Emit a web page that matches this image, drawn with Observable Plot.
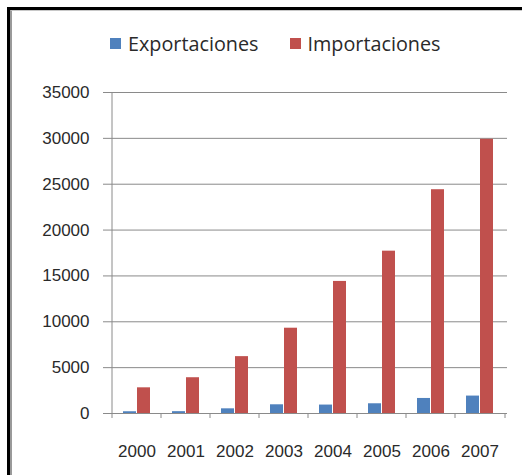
<!DOCTYPE html>
<html>
<head>
<meta charset="utf-8">
<script src="https://cdn.jsdelivr.net/npm/d3@7"></script>
<script src="https://cdn.jsdelivr.net/npm/@observablehq/plot@0.6"></script>
<style>
  html, body { margin: 0; padding: 0; background: #fff; width: 522px; height: 475px; overflow: hidden; }
  #frame { position: absolute; left: 7px; top: 7px; width: 600px; height: 600px;
           border-left: 3px solid #000; border-top: 3px solid #000; }
  #inner { position: absolute; left: 10px; top: 10px; width: 600px; height: 600px;
           border-left: 2px solid #9a9a9a; border-top: 1px solid #c8c8c8; }
  #legend { position: absolute; left: 110px; top: 30px; font-family: "Open Sans", sans-serif;
            font-size: 19.8px; color: #2a2a2a; display: flex; align-items: center; white-space: nowrap; }
  .sw { display: inline-block; width: 11px; height: 11px; margin-right: 7px; }
  .item { display: flex; align-items: center; margin-right: 31px; }
  #chart { position: absolute; left: 0; top: 70px; }
</style>
</head>
<body>
<div id="frame"></div>
<div id="inner"></div>
<div id="legend"></div>
<div id="chart"></div>
<script>
const years = ["2000", "2001", "2002", "2003", "2004", "2005", "2006", "2007"];
const exportaciones = [190, 200, 510, 950, 920, 1060, 1640, 1900];
const importaciones = [2800, 3900, 6200, 9300, 14400, 17700, 24400, 29900];
const seriesNames = ["Exportaciones", "Importaciones"];
const seriesColors = ["#4F81BD", "#C0504D"];
const yTicks = [0, 5000, 10000, 15000, 20000, 25000, 30000, 35000];

const expData = years.map((y, i) => ({year: y, value: exportaciones[i]}));
const impData = years.map((y, i) => ({year: y, value: importaciones[i]}));

// Legend
const legend = document.getElementById("legend");
seriesNames.forEach((n, i) => {
  const it = document.createElement("span");
  it.className = "item";
  const sw = document.createElement("span");
  sw.className = "sw";
  sw.style.background = seriesColors[i];
  it.appendChild(sw);
  it.appendChild(document.createTextNode(n));
  legend.appendChild(it);
});

const chart = Plot.plot({
  width: 522,
  height: 390,
  marginTop: 22,
  marginBottom: 47,
  marginLeft: 108,
  marginRight: 15,
  style: {fontFamily: "'Liberation Sans', Arial, sans-serif", fontSize: "17px", color: "#2a2a2a", background: "transparent"},
  x: {domain: years, padding: 0, axis: null, label: null},
  y: {domain: [0, 35000], axis: null, label: null},
  marks: [
    Plot.ruleY(yTicks, {stroke: "#8a8a8a", strokeWidth: 1}),
    Plot.axisY({ticks: yTicks, tickSize: 5, tickPadding: 14, tickFormat: d => String(d), stroke: "#8a8a8a", fill: "#2a2a2a", fontSize: 17, label: null}),
    Plot.ruleX([years[0]], {x: d => d, dx: -25, stroke: "#8a8a8a"}),
    Plot.barY(expData, {x: "year", y: "value", fill: seriesColors[0], insetLeft: 11, insetRight: 25}),
    Plot.barY(impData, {x: "year", y: "value", fill: seriesColors[1], insetLeft: 25, insetRight: 11}),
    Plot.ruleX(years, {x: d => d, y1: 0, y2: 0, dx: -25, insetBottom: -5, stroke: "#8a8a8a"}),
    Plot.ruleX([years[years.length - 1]], {x: d => d, y1: 0, y2: 0, dx: 25, insetBottom: -5, stroke: "#8a8a8a"}),
    Plot.axisX({tickSize: 0, tickPadding: 31, fill: "#2a2a2a", fontSize: 17, label: null})
  ]
});
document.getElementById("chart").appendChild(chart);
</script>
</body>
</html>
